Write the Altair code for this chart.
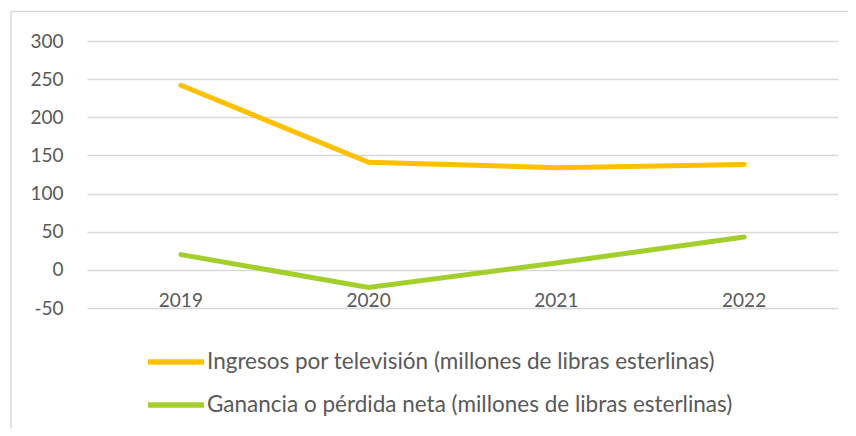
import altair as alt
import pandas as pd

years = ["2019", "2020", "2021", "2022"]
series_names = [
    "Ingresos por televisión (millones de libras esterlinas)",
    "Ganancia o pérdida neta (millones de libras esterlinas)",
]
ingresos_tv = [242, 141, 134, 138]
ganancia = [20, -23, 9, 43]
colors = ["#FFC000", "#A2CF2B"]
y_ticks = [-50, 0, 50, 100, 150, 200, 250, 300]

rows = []
for y, v in zip(years, ingresos_tv):
    rows.append({"year": y, "value": v, "series": series_names[0]})
for y, v in zip(years, ganancia):
    rows.append({"year": y, "value": v, "series": series_names[1]})
df = pd.DataFrame(rows)
labels_df = pd.DataFrame({"year": years, "value": [-50] * len(years)})

FONT = "Lato"
GRAY = "#595959"

x_scale = alt.Scale(domain=years, paddingInner=0, paddingOuter=0)
y_scale = alt.Scale(domain=[-50, 300], nice=False, zero=False)
y_axis = alt.Axis(values=y_ticks, domain=False, ticks=False,
                  labelOverlap=False, labelFont=FONT, labelFontSize=19,
                  labelColor=GRAY, labelPadding=24, labelBound=False,
                  labelExpr="replace(datum.label, '\u2212', '-')",
                  gridColor="#D9D9D9", gridWidth=1.5)

lines = alt.Chart(df).mark_line(strokeWidth=5, strokeCap="round").encode(
    x=alt.X("year:N", sort=years, title=None, scale=x_scale, axis=None),
    y=alt.Y("value:Q", scale=y_scale, title=None, axis=y_axis),
    color=alt.Color("series:N", sort=series_names,
                    scale=alt.Scale(domain=series_names, range=colors),
                    legend=alt.Legend(orient="none", legendX=58, legendY=290,
                                      direction="vertical", title=None,
                                      symbolType="stroke", symbolStrokeWidth=5.5,
                                      symbolSize=3136, labelFont=FONT,
                                      labelFontSize=22.5, labelColor=GRAY,
                                      rowPadding=-11, labelOffset=0,
                                      labelLimit=800)),
)

xlabels = alt.Chart(labels_df).mark_text(
    font=FONT, fontSize=19, color=GRAY, baseline="alphabetic", dy=-1
).encode(
    x=alt.X("year:N", sort=years, scale=x_scale, axis=None),
    y=alt.Y("value:Q", scale=y_scale, title=None, axis=y_axis),
    text="year:N",
)

border = alt.Chart(pd.DataFrame({"a": [0]})).mark_rule(color="#D9D9D9", strokeWidth=1.5).encode(
    x=alt.value(-76), x2=alt.value(800), y=alt.value(-29.5), y2=alt.value(-29.5)
)
border_left = alt.Chart(pd.DataFrame({"a": [0]})).mark_rule(color="#D9D9D9", strokeWidth=1.5).encode(
    x=alt.value(-76), x2=alt.value(-76), y=alt.value(-29.5), y2=alt.value(420)
)

chart = alt.layer(lines, xlabels, border, border_left).properties(
    width=751, height=267,
    autosize=alt.AutoSizeParams(type="none"),
    padding={"left": 79, "top": 33, "right": 10, "bottom": 120},
).configure(background="white", view={"stroke": None})

chart.save("out.html", embed_options={"renderer": "svg", "actions": False})
